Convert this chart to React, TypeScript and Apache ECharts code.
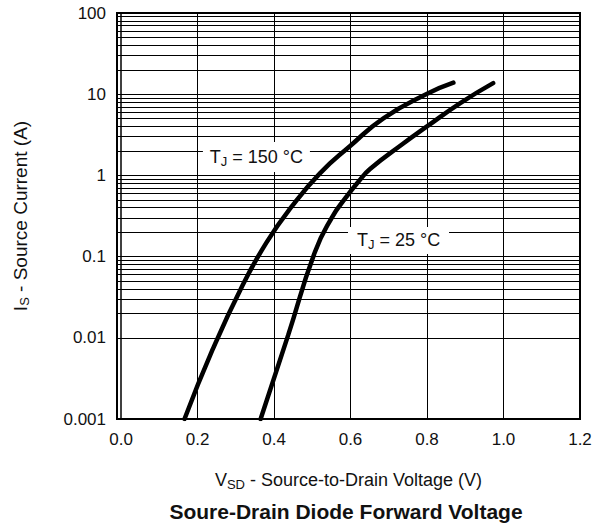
import React, { useEffect, useRef } from "react";
import * as echarts from "echarts";

// ---- data ----
const xTicks = [0, 0.2, 0.4, 0.6, 0.8, 1.0, 1.2];
const xTickLabels = ["0.0", "0.2", "0.4", "0.6", "0.8", "1.0", "1.2"];
const xGridValues = [0.2, 0.4, 0.6, 0.8, 1.0];
const yTicks = [0.001, 0.01, 0.1, 1, 10, 100];
const yTickLabels = ["0.001", "0.01", "0.1", "1", "10", "100"];
const minorDecades = [0.001, 0.01, 0.1, 1, 10];
const minorMultipliers = [2, 3, 4, 5, 6, 7, 8, 9];

const vsd150 = [0.166, 0.239, 0.316, 0.381, 0.446, 0.52, 0.599, 0.686, 0.799, 0.869];
const is150 = [0.001, 0.00708, 0.0426, 0.151, 0.412, 1.06, 2.3, 5.05, 10.06, 13.86];

const vsd25 = [0.365, 0.437, 0.507, 0.552, 0.586, 0.62, 0.651, 0.738, 0.799, 0.886, 0.973];
const is25 = [0.001, 0.0108, 0.114, 0.307, 0.52, 0.83, 1.2, 2.47, 3.98, 7.73, 13.7];

const seriesNames = ["TJ = 150 °C", "TJ = 25 °C"];

const FONT = "'Liberation Sans', Arial, Helvetica, sans-serif";

export default function App() {
  const ref = useRef<HTMLDivElement>(null);

  useEffect(() => {
    document.body.style.margin = "0";
    if (!ref.current) return;
    const chart = echarts.init(ref.current, undefined, { renderer: "svg" });

    const minorLines: any[] = [];
    minorDecades.forEach((d) =>
      minorMultipliers.forEach((m) => minorLines.push({ yAxis: +(d * m).toPrecision(3) }))
    );
    xGridValues.forEach((v) => minorLines.push({ xAxis: v }));

    const subRich = (size: number) => ({
      sub: {
        fontSize: 13,
        fontFamily: FONT,
        color: "#111",
        verticalAlign: "bottom",
        lineHeight: 13,
      },
      t: { fontSize: size, fontFamily: FONT, color: "#111", lineHeight: 22 },
    });

    const option: any = {
      animation: false,
      backgroundColor: "#fff",
      title: {
        text: "Soure-Drain Diode Forward Voltage",
        left: 346,
        top: 501,
        padding: 0,
        textAlign: "center",
        textStyle: { fontFamily: FONT, fontSize: 21, fontWeight: "bold", color: "#111" },
      },
      grid: {
        left: 117,
        top: 13,
        width: 463,
        height: 406,
        show: true,
        borderColor: "#000",
        borderWidth: 2,
        backgroundColor: "transparent",
      },
      xAxis: {
        type: "value",
        min: -0.0105,
        max: 1.2,
        name: "V{sub|SD} - Source-to-Drain Voltage (V)",
        nameLocation: "middle",
        nameGap: 50,
        nameTextStyle: {
          fontFamily: FONT,
          fontSize: 18,
          color: "#111",
          lineHeight: 22,
          rich: subRich(18),
        },
        axisLine: { show: true, lineStyle: { color: "#000", width: 2 } },
        axisTick: { show: false, customValues: xTicks },
        splitLine: { show: false },
        axisLabel: {
          customValues: xTicks,
          margin: 12,
          fontFamily: FONT,
          fontSize: 17,
          color: "#111",
          formatter: (v: number) => {
            const i = xTicks.findIndex((t) => Math.abs(t - v) < 1e-6);
            return i >= 0 ? xTickLabels[i] : "";
          },
        },
      },
      yAxis: {
        type: "log",
        logBase: 10,
        min: 0.001,
        max: 100,
        name: "I{sub|S} - Source Current (A)",
        nameLocation: "middle",
        nameGap: 86,
        nameRotate: 90,
        nameTextStyle: {
          fontFamily: FONT,
          fontSize: 19,
          color: "#111",
          lineHeight: 22,
          rich: subRich(19),
        },
        axisLine: { show: true, lineStyle: { color: "#000", width: 1.5 } },
        axisTick: { show: false },
        splitLine: { show: true, lineStyle: { color: "#000", width: 1 } },
        axisLabel: {
          margin: 11,
          fontFamily: FONT,
          fontSize: 17,
          color: "#111",
          formatter: (v: number) => {
            const i = yTicks.findIndex((t) => Math.abs(Math.log10(t) - Math.log10(v)) < 0.01);
            return i >= 0 ? yTickLabels[i] : "";
          },
        },
      },
      series: [
        {
          type: "line",
          name: "grid",
          data: [],
          z: 1,
          silent: true,
          markLine: {
            silent: true,
            symbol: ["none", "none"],
            label: { show: false },
            lineStyle: { color: "#000", width: 1, type: "solid" },
            emphasis: { disabled: true },
            data: minorLines,
          },
        },
        {
          type: "line",
          name: seriesNames[0],
          z: 3,
          smooth: 0.5,
          showSymbol: false,
          lineStyle: { color: "#000", width: 4.5, cap: "round" },
          data: vsd150.map((v, i) => [v, is150[i]]),
          markPoint: {
            silent: true,
            symbol: "rect",
            symbolSize: [107, 30],
            itemStyle: { color: "#fff" },
            label: {
              show: true,
              position: "inside",
              formatter: "{t|T}{sub|J}{t| = 150 °C}",
              rich: subRich(18),
            },
            data: [{ coord: [0.354, 1.685] }],
          },
        },
        {
          type: "line",
          name: seriesNames[1],
          z: 3,
          smooth: 0.5,
          showSymbol: false,
          lineStyle: { color: "#000", width: 4.5, cap: "round" },
          data: vsd25.map((v, i) => [v, is25[i]]),
          markPoint: {
            silent: true,
            symbol: "rect",
            symbolSize: [101, 27],
            itemStyle: { color: "#fff" },
            label: {
              show: true,
              position: "inside",
              formatter: "{t|T}{sub|J}{t| = 25 °C}",
              rich: subRich(18),
            },
            data: [{ coord: [0.7255, 0.158] }],
          },
        },
      ],
    };

    chart.setOption(option);
    return () => chart.dispose();
  }, []);

  return <div ref={ref} style={{ width: 597, height: 525 }} />;
}
